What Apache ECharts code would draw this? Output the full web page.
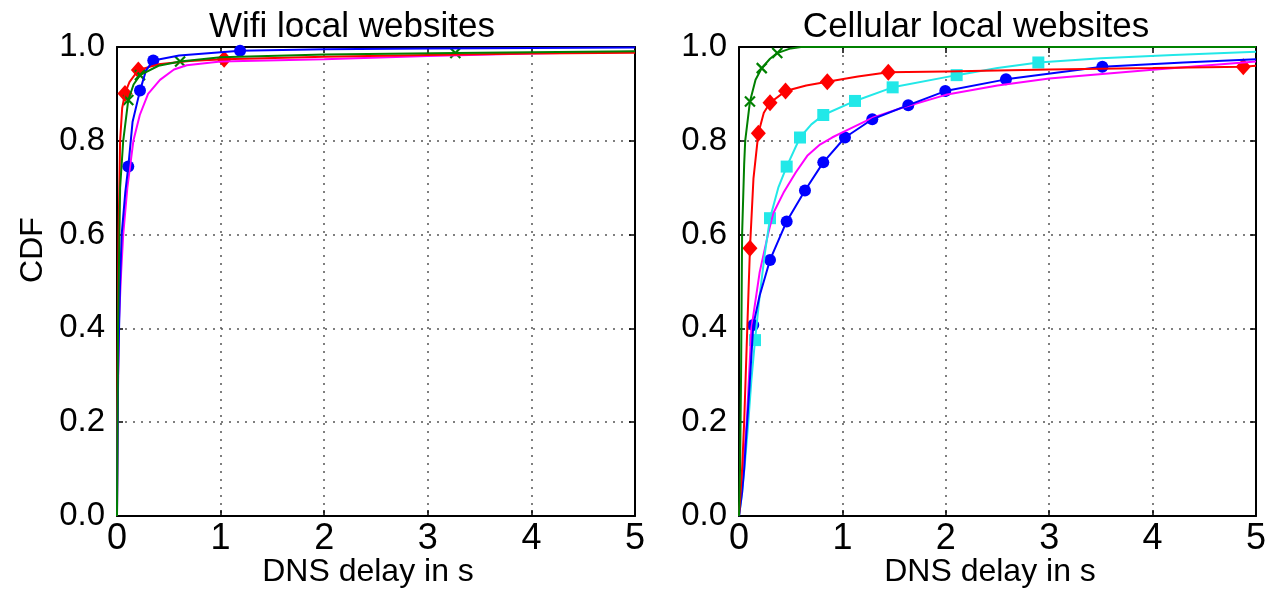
<!DOCTYPE html>
<html>
<head>
<meta charset="utf-8">
<script src="https://cdn.jsdelivr.net/npm/echarts@6/dist/echarts.min.js"></script>
<style>
html,body{margin:0;padding:0;background:#fff;}
#c{width:1270px;height:592px;}
</style>
</head>
<body>
<div id="c"></div>
<script>
// ---- Data (x = DNS delay in s, y = CDF) ----
const xTicks = [0, 1, 2, 3, 4, 5];
const yTicks = [0.0, 0.2, 0.4, 0.6, 0.8, 1.0];
const titles = ['Wifi local websites', 'Cellular local websites'];
const xName = 'DNS delay in s';
const yName = 'CDF';

// Wifi panel
const wifiMagentaLine = [[0,0],[0.005,0.2],[0.02,0.42],[0.04,0.52],[0.06,0.6],[0.1,0.7],[0.158,0.80],[0.22,0.855],[0.3,0.9],[0.415,0.93],[0.55,0.952],[0.673,0.961],[1.0,0.969],[2,0.974],[3,0.981],[4,0.986],[5,0.99]];
const wifiBlueLine = [[0,0],[0.01,0.3],[0.03,0.5],[0.045,0.6],[0.08,0.69],[0.109,0.745],[0.15,0.84],[0.222,0.907],[0.28,0.95],[0.35,0.971],[0.6,0.982],[1.188,0.992],[2,0.995],[3,0.997],[5,0.999]];
const wifiBlueMarks = [[0.109,0.745],[0.222,0.907],[0.35,0.971],[1.188,0.992]];
const wifiRedLine = [[0,0],[0.005,0.3],[0.015,0.6],[0.03,0.8],[0.05,0.87],[0.077,0.901],[0.12,0.925],[0.206,0.951],[0.4,0.963],[0.7,0.97],[1.034,0.974],[2,0.979],[3,0.983],[4,0.986],[5,0.988]];
const wifiRedMarks = [[0.077,0.901],[0.206,0.951],[1.034,0.974]];
const wifiGreenLine = [[0,0],[0.01,0.4],[0.03,0.7],[0.06,0.8],[0.109,0.887],[0.16,0.92],[0.222,0.940],[0.4,0.96],[0.609,0.969],[1.0,0.978],[2,0.984],[3.266,0.987],[4,0.989],[5,0.991]];
const wifiGreenMarks = [[0.109,0.887],[0.222,0.940],[0.609,0.969],[3.266,0.987]];

// Cellular panel
const cellMagentaLine = [[0,0],[0.02,0.05],[0.04,0.1],[0.075,0.2],[0.12,0.4],[0.2,0.52],[0.28,0.6],[0.33,0.645],[0.43,0.689],[0.55,0.733],[0.66,0.768],[0.783,0.792],[0.9,0.807],[1.0,0.818],[1.3,0.85],[1.6,0.872],[2.0,0.898],[2.5,0.918],[3.0,0.933],[3.97,0.951],[5,0.969]];
const cellCyanLine = [[0,0],[0.03,0.05],[0.06,0.12],[0.09,0.2],[0.12,0.29],[0.155,0.375],[0.2,0.47],[0.25,0.56],[0.30,0.635],[0.38,0.70],[0.461,0.745],[0.59,0.807],[0.7,0.835],[0.815,0.855],[1.122,0.885],[1.486,0.914],[2.105,0.940],[2.5,0.955],[2.895,0.967],[3.5,0.976],[4.2,0.983],[5,0.99]];
const cellCyanMarks = [[0.155,0.375],[0.30,0.635],[0.461,0.745],[0.59,0.807],[0.815,0.855],[1.122,0.885],[1.486,0.914],[2.105,0.940],[2.895,0.967]];
const cellBlueLine = [[0,0],[0.03,0.05],[0.05,0.1],[0.07,0.17],[0.1,0.27],[0.138,0.407],[0.2,0.47],[0.30,0.546],[0.461,0.628],[0.638,0.694],[0.815,0.754],[1.025,0.807],[1.289,0.846],[1.637,0.876],[1.995,0.906],[2.582,0.931],[3.514,0.958],[4.3,0.967],[5,0.974]];
const cellBlueMarks = [[0.138,0.407],[0.30,0.546],[0.461,0.628],[0.638,0.694],[0.815,0.754],[1.025,0.807],[1.289,0.846],[1.637,0.876],[1.995,0.906],[2.582,0.931],[3.514,0.958]];
const cellRedLine = [[0,0],[0.03,0.1],[0.05,0.2],[0.08,0.4],[0.106,0.571],[0.14,0.72],[0.187,0.816],[0.24,0.86],[0.30,0.881],[0.45,0.906],[0.65,0.918],[0.854,0.926],[1.15,0.937],[1.444,0.946],[2,0.948],[3,0.952],[4,0.955],[4.877,0.958],[5,0.96]];
const cellRedMarks = [[0.106,0.571],[0.187,0.816],[0.30,0.881],[0.45,0.906],[0.854,0.926],[1.444,0.946],[4.877,0.958]];
const cellGreenLine = [[0,0],[0.01,0.1],[0.02,0.3],[0.03,0.6],[0.05,0.75],[0.06,0.8],[0.106,0.884],[0.16,0.93],[0.22,0.955],[0.3,0.975],[0.37,0.987],[0.5,0.997],[0.6,1.0],[5,1.0]];
const cellGreenMarks = [[0.106,0.884],[0.22,0.955],[0.37,0.987]];

// ---- Styling ----
const FONT = '"Liberation Sans", Arial, Helvetica, sans-serif';
const C = {blue:'#0000ff', red:'#ff0000', green:'#008000', cyan:'#22e8e8', magenta:'#ff00ff'};
const X_SYMBOL = 'path://M0,0L10,10M10,0L0,10';

function lineSeries(data, color, gi) {
  return {type:'line', data:data, xAxisIndex:gi, yAxisIndex:gi, showSymbol:false, symbol:'none',
    lineStyle:{color:color, width:2}, itemStyle:{color:color}, animation:false, silent:true};
}
function markSeries(data, color, gi, kind) {
  const s = {type:'scatter', data:data, xAxisIndex:gi, yAxisIndex:gi, animation:false, silent:true};
  if (kind === 'circle') { s.symbol = 'circle'; s.symbolSize = 12; s.itemStyle = {color:color, opacity:1}; }
  else if (kind === 'diamond') { s.symbol = 'diamond'; s.symbolSize = [15,17]; s.itemStyle = {color:color, opacity:1}; }
  else if (kind === 'square') { s.symbol = 'rect'; s.symbolSize = 12; s.itemStyle = {color:color, opacity:1}; }
  else { s.symbol = X_SYMBOL; s.symbolSize = 10; s.itemStyle = {color:'none', borderColor:color, borderWidth:2.2, opacity:1}; }
  return s;
}

const grids = [
  {left:117, top:47, width:518, height:469},
  {left:739, top:47, width:517, height:469}
];

function mainX(gi) {
  return {type:'value', gridIndex:gi, min:xTicks[0], max:xTicks[xTicks.length-1], interval:1, position:'bottom',
    axisLine:{show:true, onZero:false, lineStyle:{color:'#000', width:2}},
    axisTick:{show:true, inside:true, length:6, lineStyle:{color:'#000', width:1.5}},
    axisLabel:{show:true, margin:5, fontSize:36, color:'#000', fontFamily:FONT},
    splitLine:{show:true, lineStyle:{color:'#555', width:1.5, type:[2,6]}}};
}
function topX(gi) {
  return {type:'value', gridIndex:gi, min:xTicks[0], max:xTicks[xTicks.length-1], interval:1, position:'top',
    axisLine:{show:true, onZero:false, lineStyle:{color:'#000', width:2}},
    axisTick:{show:true, inside:true, length:6, lineStyle:{color:'#000', width:1.5}},
    axisLabel:{show:false}, splitLine:{show:false}};
}
function mainY(gi) {
  return {type:'value', gridIndex:gi, min:yTicks[0], max:yTicks[yTicks.length-1], interval:0.2, position:'left',
    axisLine:{show:true, onZero:false, lineStyle:{color:'#000', width:2}},
    axisTick:{show:true, inside:true, length:6, lineStyle:{color:'#000', width:1.5}},
    axisLabel:{show:true, margin:12, fontSize:33, color:'#000', fontFamily:FONT,
      formatter:function(v){ return v.toFixed(1); }},
    splitLine:{show:true, lineStyle:{color:'#555', width:1.5, type:[2,6]}}};
}
function rightY(gi) {
  return {type:'value', gridIndex:gi, min:yTicks[0], max:yTicks[yTicks.length-1], interval:0.2, position:'right',
    axisLine:{show:true, onZero:false, lineStyle:{color:'#000', width:2}},
    axisTick:{show:true, inside:true, length:6, lineStyle:{color:'#000', width:1.5}},
    axisLabel:{show:false}, splitLine:{show:false}};
}

const series = [
  // Wifi
  lineSeries(wifiMagentaLine, C.magenta, 0),
  lineSeries(wifiRedLine, C.red, 0),
  markSeries(wifiRedMarks, C.red, 0, 'diamond'),
  lineSeries(wifiBlueLine, C.blue, 0),
  markSeries(wifiBlueMarks, C.blue, 0, 'circle'),
  lineSeries(wifiGreenLine, C.green, 0),
  markSeries(wifiGreenMarks, C.green, 0, 'x'),
  // Cellular
  lineSeries(cellMagentaLine, C.magenta, 1),
  lineSeries(cellCyanLine, C.cyan, 1),
  markSeries(cellCyanMarks, C.cyan, 1, 'square'),
  lineSeries(cellBlueLine, C.blue, 1),
  markSeries(cellBlueMarks, C.blue, 1, 'circle'),
  lineSeries(cellRedLine, C.red, 1),
  markSeries(cellRedMarks, C.red, 1, 'diamond'),
  lineSeries(cellGreenLine, C.green, 1),
  markSeries(cellGreenMarks, C.green, 1, 'x')
];

const textStyle = (txt, size) => ({text:txt, fontSize:size, fontFamily:FONT, fill:'#000', align:'center', verticalAlign:'middle'});

const option = {
  animation:false,
  backgroundColor:'#fff',
  grid: grids,
  xAxis: [mainX(0), mainX(1), topX(0), topX(1)],
  yAxis: [mainY(0), mainY(1), rightY(0), rightY(1)],
  series: series,
  graphic: [
    {type:'text', x:352, y:27, style:textStyle(titles[0], 35)},
    {type:'text', x:976, y:27, style:textStyle(titles[1], 35)},
    {type:'text', x:368, y:572, style:textStyle(xName, 32)},
    {type:'text', x:990, y:572, style:textStyle(xName, 32)},
    {type:'text', x:33, y:250, rotation:Math.PI/2, style:textStyle(yName, 32)}
  ]
};

const chart = echarts.init(document.getElementById('c'), null, {renderer:'canvas'});
chart.setOption(option);
</script>
</body>
</html>
